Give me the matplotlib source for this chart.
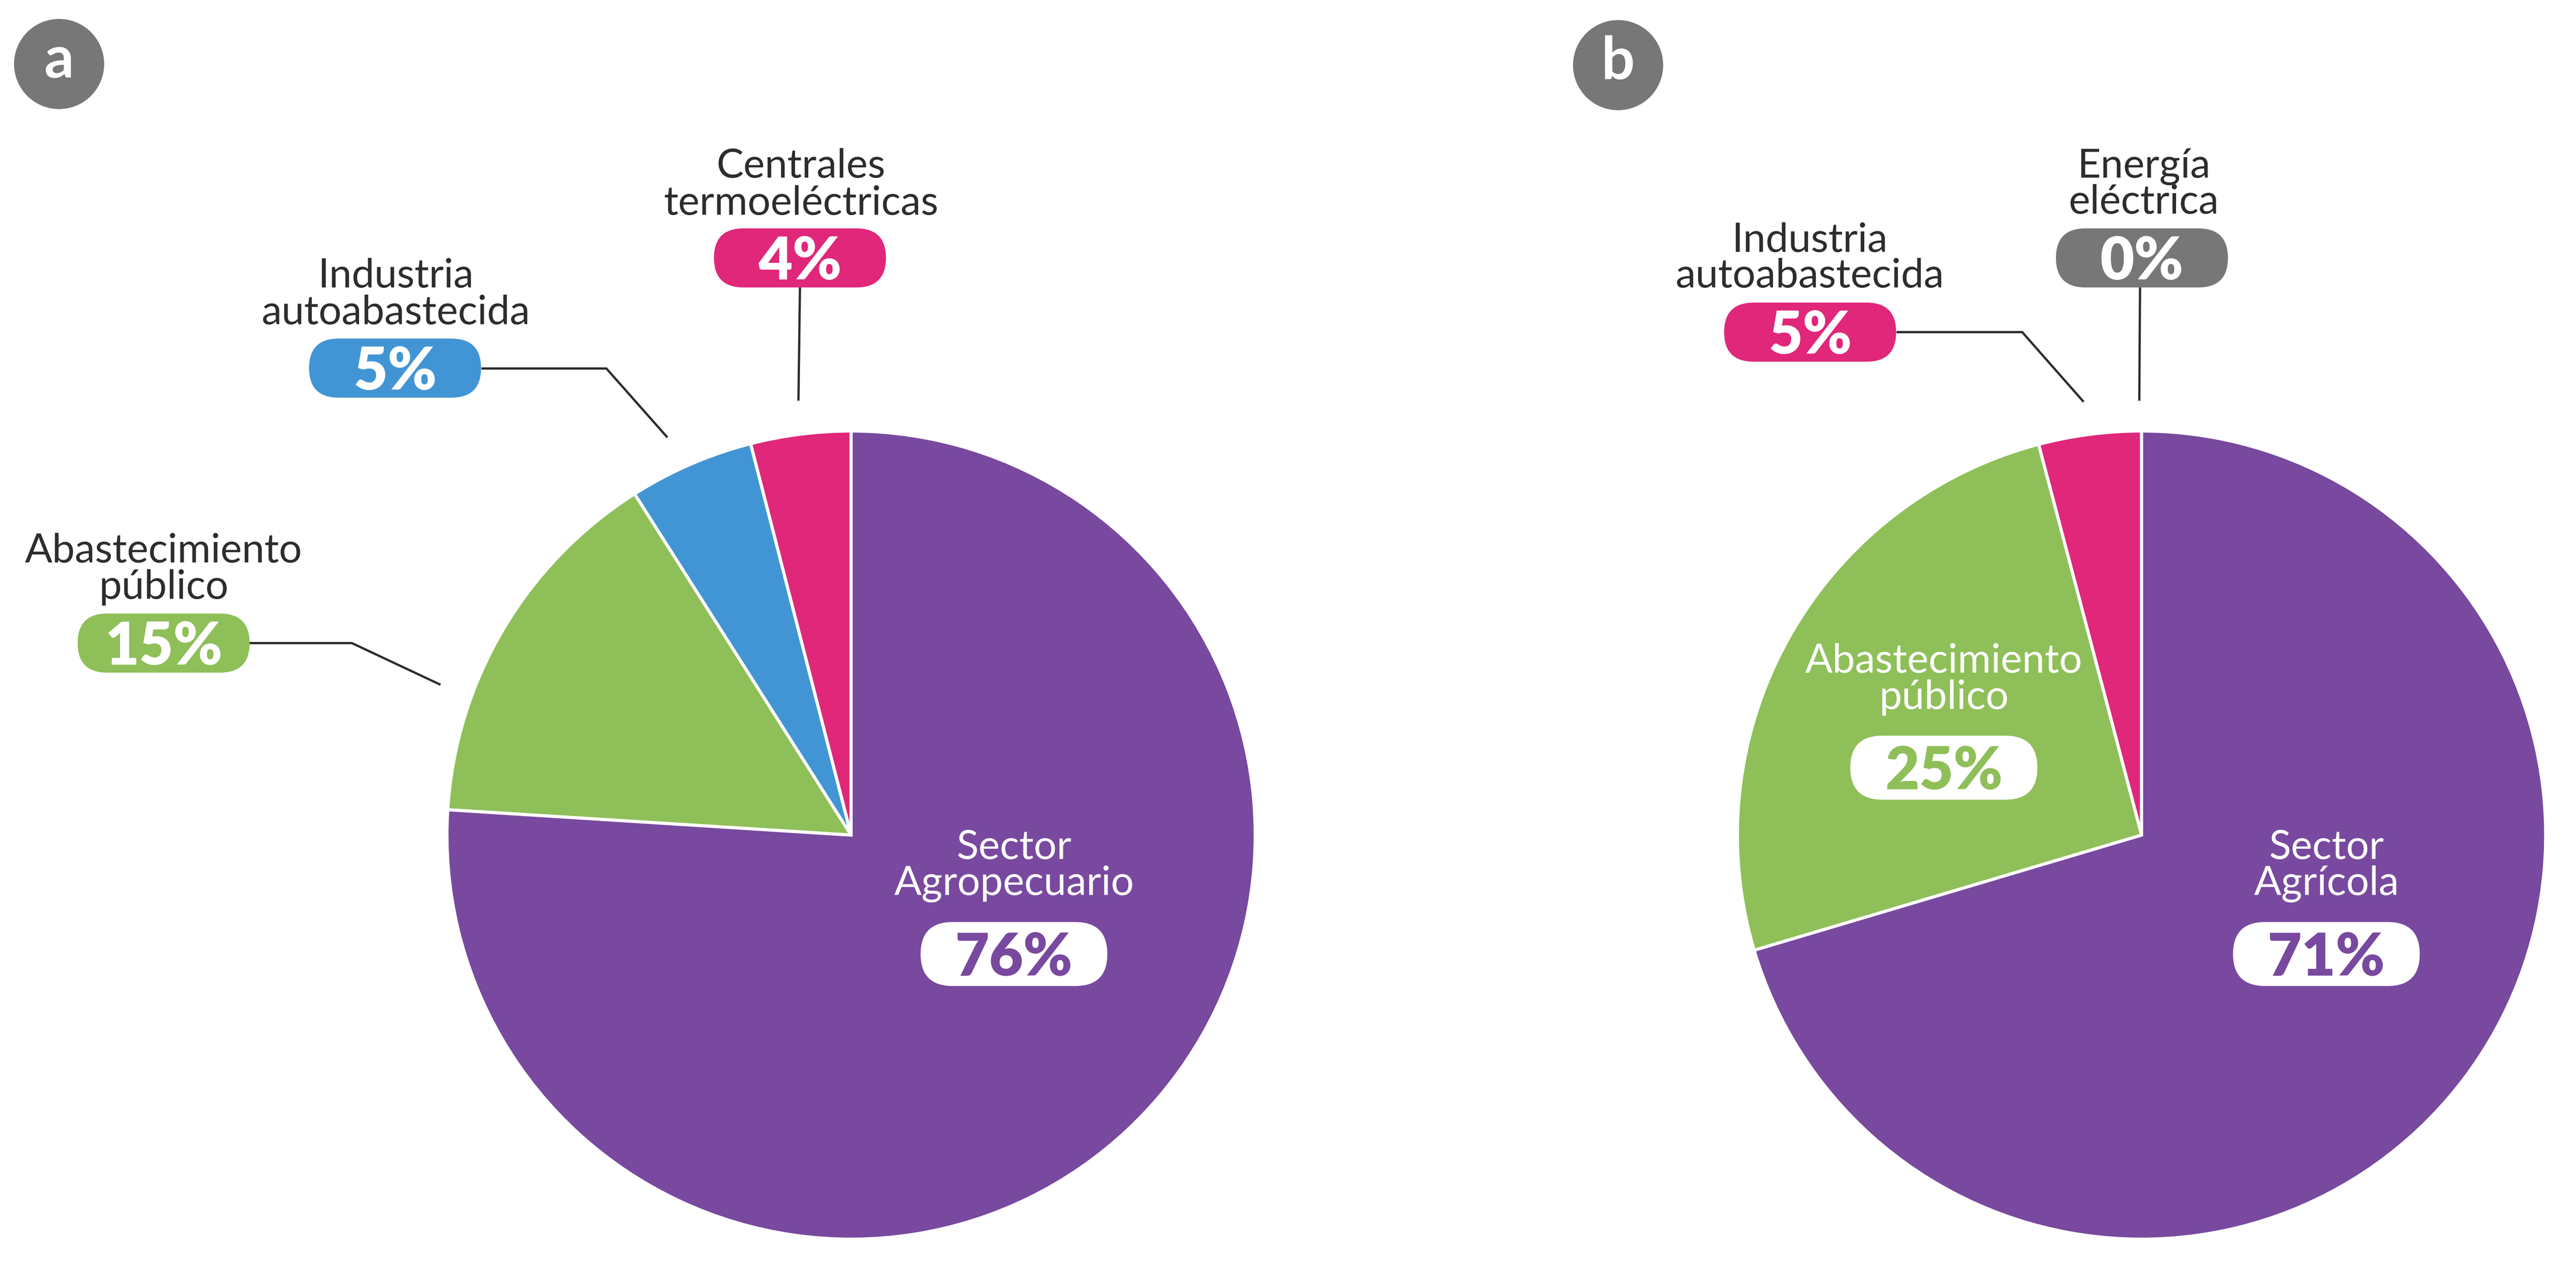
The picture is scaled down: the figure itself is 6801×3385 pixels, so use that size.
import matplotlib
matplotlib.use("Agg")
import matplotlib.pyplot as plt
from matplotlib.patches import FancyBboxPatch, Circle

# ---------------- data ----------------
# Panel a (counter-clockwise from 12 o'clock)
cats_a = ["Centrales\ntermoeléctricas", "Industria\nautoabastecida",
          "Abastecimiento\npúblico", "Sector\nAgropecuario"]
shares_a = [4, 5, 15, 76]
pct_a = ["4%", "5%", "15%", "76%"]

# Panel b (counter-clockwise from 12 o'clock)
cats_b = ["Energía\neléctrica", "Industria\nautoabastecida",
          "Abastecimiento\npúblico", "Sector\nAgrícola"]
shares_b = [0.0, 4.1, 25.5, 70.4]
pct_b = ["0%", "5%", "25%", "71%"]

# ---------------- style ----------------
PURPLE = "#78499F"
GREEN = "#8FBF59"
BLUE = "#4295D4"
PINK = "#E0277A"
GRAY = "#777777"
DARK = "#2D2D2D"

colors_a = [PINK, BLUE, GREEN, PURPLE]
colors_b = [GRAY, PINK, GREEN, PURPLE]

W, H = 6801, 3385
DPI = 100
fig = plt.figure(figsize=(W / DPI, H / DPI), dpi=DPI)
ax = fig.add_axes([0, 0, 1, 1])

def fy(y):
    return H - y

FONT = ["Lato", "DejaVu Sans"]
LABEL_FS = 77
PCT_FS = 112

# pies
R = 1067
centers = [(2247, 2205), (5654, 2205)]
for (cx, cy), vals, cols in zip(centers, [shares_a, shares_b], [colors_a, colors_b]):
    ax.pie(vals, colors=cols, startangle=90, counterclock=True,
           center=(cx, fy(cy)), radius=R, normalize=True,
           wedgeprops=dict(edgecolor="white", linewidth=6, joinstyle="miter"))

def pill(cx, cy, w, h, face, text, tcolor):
    p = FancyBboxPatch((cx - w / 2, fy(cy) - h / 2), w, h,
                       boxstyle=f"round,pad=0,rounding_size={h / 2}",
                       facecolor=face, edgecolor="none", zorder=5)
    ax.add_patch(p)
    ax.text(cx, fy(cy + 57), text, ha="center", va="baseline",
            fontsize=PCT_FS, fontweight="heavy", family=FONT,
            color=tcolor, zorder=6)

def label(cx, baselines, text, color):
    for line, b in zip(text.split("\n"), baselines):
        ax.text(cx, fy(b), line, ha="center", va="baseline",
                fontsize=LABEL_FS, family=FONT, color=color, zorder=6)

def leader(pts):
    xs = [p[0] for p in pts]
    ys = [fy(p[1]) for p in pts]
    ax.plot(xs, ys, color=DARK, lw=4.3, solid_capstyle="butt",
            solid_joinstyle="miter", zorder=4)

# layout: (text center x, baselines, pill center, pill size, inside?, leader)
layout_a = [
    (2115, (469, 567), (2112, 681), (454, 156), False, [(2112, 759), (2108, 1058)]),
    (1045, (759, 856), (1043, 972), (454, 156), False, [(1271, 973), (1601, 973), (1762, 1155)]),
    (432, (1485, 1581), (432, 1698), (454, 156), False, [(659, 1698), (929, 1698), (1163, 1808)]),
    (2677, (2268, 2363), (2677, 2519), (493, 169), True, None),
]
layout_b = [
    (5660, (469, 564), (5655, 681), (454, 156), False, [(5650, 759), (5648, 1058)]),
    (4778, (665, 759), (4779, 877), (454, 156), False, [(5007, 877), (5339, 877), (5501, 1061)]),
    (5132, (1776, 1872), (5132, 2027), (494, 169), True, None),
    (6142, (2268, 2363), (6142, 2519), (493, 169), True, None),
]

for cats, pcts, cols, lay in [(cats_a, pct_a, colors_a, layout_a),
                              (cats_b, pct_b, colors_b, layout_b)]:
    for cat, pct, col, (tx, bl, (px, py), (pw, ph), inside, ld) in zip(cats, pcts, cols, lay):
        if inside:
            label(tx, bl, cat, "white")
            pill(px, py, pw, ph, "white", pct, col)
        else:
            label(tx, bl, cat, DARK)
            pill(px, py, pw, ph, col, pct, "white")
            leader(ld)

# panel letters
for (cx, cy), letter in [((156, 169), "a"), ((4272, 172), "b")]:
    ax.add_patch(Circle((cx, fy(cy)), 119, facecolor=GRAY, edgecolor="none", zorder=5))
    ax.text(cx, fy(cy + 36), letter, ha="center", va="baseline", fontsize=112,
            fontweight="bold", family=FONT, color="white", zorder=6)

ax.set_xlim(0, W)
ax.set_ylim(0, H)
ax.set_aspect("equal", adjustable="box")
ax.axis("off")
fig.savefig("out.png", dpi=DPI, facecolor="white")
